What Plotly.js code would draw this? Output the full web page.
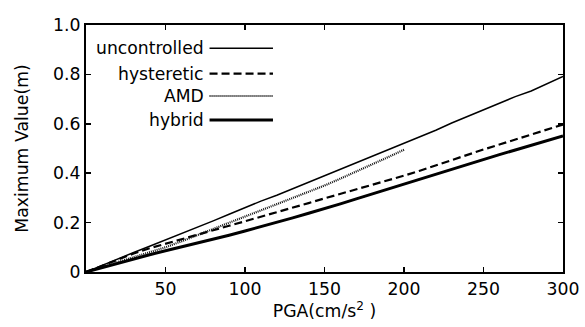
<!DOCTYPE html>
<html>
<head>
<meta charset="utf-8">
<script src="https://cdn.plot.ly/plotly-3.0.1.min.js"></script>
<style>html,body{margin:0;padding:0;background:#fff;}#chart{width:585px;height:327px;}</style>
</head>
<body>
<div id="chart"></div>
<script>
const pga = [0,10,20,30,40,50,60,70,80,90,100,110,120,130,140,150,160,170,180,190,200,210,220,230,240,250,260,270,280,290,300];
const pgaAMD = [0,10,20,30,40,50,60,70,80,90,100,110,120,130,140,150,160,170,180,190,200];
const uncontrolled = [0,0.027,0.053,0.079,0.104,0.129,0.154,0.180,0.207,0.234,0.262,0.287,0.311,0.337,0.364,0.390,0.415,0.441,0.467,0.494,0.520,0.547,0.574,0.603,0.630,0.656,0.682,0.710,0.733,0.762,0.792];
const hysteretic = [0,0.026,0.051,0.075,0.096,0.115,0.133,0.151,0.169,0.187,0.205,0.223,0.242,0.260,0.279,0.298,0.316,0.334,0.353,0.371,0.390,0.410,0.432,0.453,0.475,0.496,0.516,0.537,0.557,0.577,0.597];
const amd = [0,0.020,0.040,0.060,0.080,0.100,0.124,0.149,0.174,0.199,0.224,0.248,0.272,0.297,0.323,0.350,0.378,0.406,0.435,0.465,0.495];
const hybrid = [0,0.018,0.036,0.053,0.070,0.086,0.101,0.117,0.133,0.149,0.166,0.183,0.200,0.219,0.238,0.256,0.276,0.296,0.316,0.336,0.356,0.376,0.397,0.418,0.437,0.456,0.475,0.494,0.513,0.532,0.551];
const seriesNames = ['uncontrolled','hysteretic','AMD','hybrid'];
const xTicks = [50,100,150,200,250,300];
const yTickVals = [0,0.2,0.4,0.6,0.8,1.0];
const yTickText = ['0','0.2','0.4','0.6','0.8','1.0'];

const FONT = 'DejaVu Sans, Liberation Sans, Arial, sans-serif';
const styles = [
  {color:'#000', width:1.5, dash:'solid'},
  {color:'#000', width:2.2, dash:'8px,4px'},
  {color:'#111', width:2.2, dash:'1px,1px'},
  {color:'#000', width:3, dash:'solid'}
];
const xs = [pga, pga, pgaAMD, pga];
const ys = [uncontrolled, hysteretic, amd, hybrid];
const traces = ys.map((y,i)=>({x:xs[i], y:y, type:'scatter', mode:'lines', name:seriesNames[i], line:styles[i], showlegend:false}));

const rowY = [0.906, 0.803, 0.7125, 0.615];
const shapes = [], annotations = [];
seriesNames.forEach((n,i)=>{
  shapes.push({type:'line', xref:'paper', yref:'paper', x0:0.259, x1:0.392, y0:rowY[i], y1:rowY[i], line:styles[i]});
  annotations.push({xref:'paper', yref:'paper', x:0.252, y:rowY[i], xanchor:'right', yanchor:'middle', text:n, showarrow:false, font:{family:FONT, size:17.2, color:'#000'}});
});

const layout = {
  width:585, height:327,
  margin:{l:86, r:22, t:25, b:55},
  paper_bgcolor:'#fff', plot_bgcolor:'#fff',
  font:{family:FONT, size:17.3, color:'#000'},
  xaxis:{range:[0,300], tickvals:xTicks, ticks:'inside', ticklen:5, tickwidth:1.5, tickcolor:'#000', showline:true, linewidth:2, linecolor:'#000', mirror:'ticks', showgrid:false, zeroline:false,
    tickfont:{size:17.3}, title:{text:'PGA(cm/s<sup>2</sup> )', standoff:4, font:{size:17.3}}},
  yaxis:{range:[0,1.0], tickvals:yTickVals, ticktext:yTickText, ticks:'inside', ticklen:5, tickwidth:1.5, tickcolor:'#000', showline:true, linewidth:2, linecolor:'#000', mirror:'ticks', showgrid:false, zeroline:false,
    tickfont:{size:17.3}, title:{text:'Maximum Value(m)', standoff:20, font:{size:17.3}}},
  shapes:shapes, annotations:annotations, showlegend:false
};
Plotly.newPlot('chart', traces, layout, {displayModeBar:false, staticPlot:true});
</script>
</body>
</html>
